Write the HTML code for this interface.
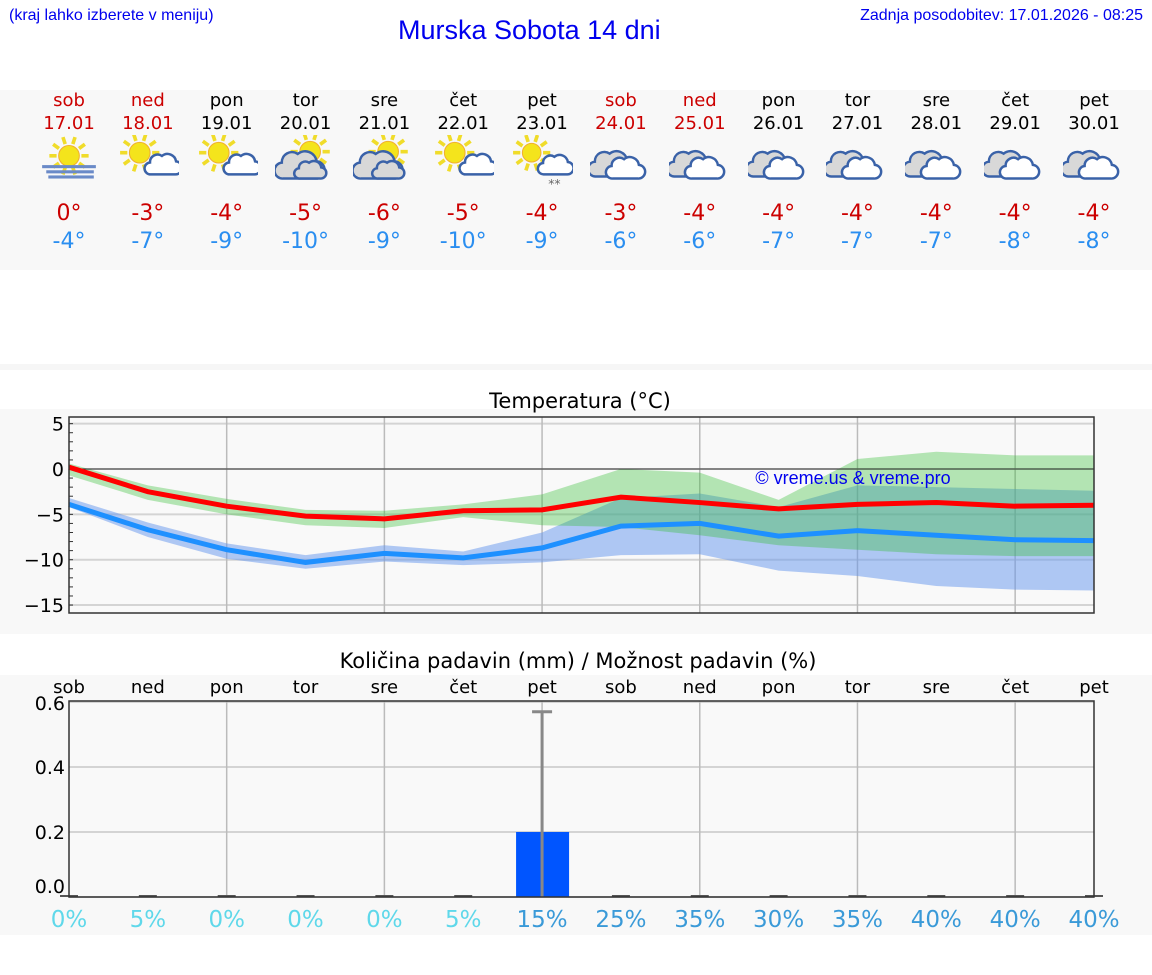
<!DOCTYPE html>
<html><head><meta charset="utf-8">
<style>
html,body{margin:0;padding:0;background:#fff;width:1152px;height:975px;overflow:hidden;position:relative;font-family:"DejaVu Sans",sans-serif;}
.abs{position:absolute;}
.band{position:absolute;left:0;width:1152px;background:#f8f8f8;}
.col{position:absolute;width:80px;text-align:center;}
.dn{font-size:18px;line-height:23px;}
.tmax{font-size:22px;color:#cc0000;}
.tmin{font-size:22px;color:#2a8ef0;}
</style></head>
<body>
<div class="abs" style="left:9px;top:7px;font:16px 'Liberation Sans Narrow','Liberation Sans',sans-serif;color:#0000ee;">(kraj lahko izberete v meniju)</div>
<div class="abs" style="left:398px;top:15px;font:27px 'Liberation Sans Narrow','Liberation Sans',sans-serif;color:#0000ee;">Murska Sobota 14 dni</div>
<div class="abs" style="right:9px;top:7px;font:16px 'Liberation Sans Narrow','Liberation Sans',sans-serif;color:#0000ee;">Zadnja posodobitev: 17.01.2026 - 08:25</div>

<div class="band" style="top:90px;height:180px;"></div>
<div class="band" style="top:364px;height:6px;background:#f6f6f6"></div>
<div class="band" style="top:409px;height:225px;"></div>
<div class="band" style="top:675px;height:260px;"></div>

<div id="days"></div>

<svg class="abs" style="left:0;top:0" width="1152" height="975" id="charts">
  <text x="580" y="408" font-size="21" text-anchor="middle" font-family="DejaVu Sans">Temperatura (°C)</text>
  <text x="578" y="668" font-size="21" text-anchor="middle" font-family="DejaVu Sans">Količina padavin (mm) / Možnost padavin (%)</text>
  <g id="tchart"></g>
  <g id="pchart"></g>
</svg>

<script>
const dayNames=["sob","ned","pon","tor","sre","čet","pet","sob","ned","pon","tor","sre","čet","pet"];
const dates=["17.01","18.01","19.01","20.01","21.01","22.01","23.01","24.01","25.01","26.01","27.01","28.01","29.01","30.01"];
const weekend=[1,1,0,0,0,0,0,1,1,0,0,0,0,0];
const iconTypes=["fog","suncloud","suncloud","cloudsun","cloudsun","suncloud","sunsnow","cloudy","cloudy","cloudy","cloudy","cloudy","cloudy","cloudy"];
const maxLabels=[0,-3,-4,-5,-6,-5,-4,-3,-4,-4,-4,-4,-4,-4];
const minLabels=[-4,-7,-9,-10,-9,-10,-9,-6,-6,-7,-7,-7,-8,-8];

const tMax=[0.2,-2.5,-4.1,-5.2,-5.5,-4.6,-4.5,-3.1,-3.7,-4.4,-3.9,-3.7,-4.1,-4.0];
const tMin=[-3.9,-6.7,-8.9,-10.3,-9.3,-9.8,-8.7,-6.3,-6.0,-7.4,-6.8,-7.3,-7.8,-7.9];
const maxHi=[0.6,-1.8,-3.3,-4.5,-4.6,-3.9,-2.8,0.0,-0.4,-3.4,1.1,1.9,1.5,1.5];
const maxLo=[-0.7,-3.4,-5.0,-6.2,-6.5,-5.3,-6.2,-6.4,-7.3,-8.4,-8.9,-9.4,-9.6,-9.6];
const minHi=[-3.2,-5.9,-8.2,-9.5,-8.4,-9.1,-7.0,-3.2,-2.7,-4.2,-1.8,-2.0,-2.2,-2.4];
const minLo=[-4.2,-7.5,-9.9,-11.0,-10.2,-10.6,-10.3,-9.5,-9.4,-11.2,-11.8,-12.9,-13.3,-13.4];
const tTicks=[5,0,-5,-10,-15];

const precip=[0,0,0,0,0,0,0.2,0,0,0,0,0,0,0];
const precipHi=[0,0,0,0,0,0,0.57,0,0,0,0,0,0,0];
const chance=[0,5,0,0,0,5,15,25,35,30,35,40,40,40];
const pTicks=[0.0,0.2,0.4,0.6];

const NS="http://www.w3.org/2000/svg";
const X0=69,X1=1094;
function xd(i){return X0+i*(X1-X0)/13;}
function yT(v){return 469-v*9.07;}
function yP(v){return 897-v*325;}
function mk(tag,attrs,parent){const e=document.createElementNS(NS,tag);for(const k in attrs)e.setAttribute(k,attrs[k]);parent.appendChild(e);return e;}

const days=document.getElementById('days');
function iconSVG(t){
  const sun=(cx,cy,r)=>{let s='';for(let a=0;a<360;a+=36){const rad=a*Math.PI/180;s+=`<line x1="${cx+Math.cos(rad)*(r+2)}" y1="${cy+Math.sin(rad)*(r+2)}" x2="${cx+Math.cos(rad)*(r+9)}" y2="${cy+Math.sin(rad)*(r+9)}" stroke="#f0dc2a" stroke-width="3.5"/>`;}return s+`<circle cx="${cx}" cy="${cy}" r="${r}" fill="#f4e41c" stroke="#f0b030" stroke-width="1"/>`;};
  const cloud=(x,y,s,fill)=>`<path transform="translate(${x},${y}) scale(${s})" d="M0 0 h22 a6 6 0 0 0 1 -12 a8 8 0 0 0 -13 -5 a7 7 0 0 0 -11 6 a5.5 5.5 0 0 0 1 11 z" fill="${fill}" stroke="#3a62a8" stroke-width="${2.4/s}"/>`;
  let s='';
  if(t==='fog'){s=sun(30,20,10)+`<rect x="4" y="29" width="52" height="3" fill="#6a8ac8"/><rect x="8" y="34" width="46" height="3" fill="#6a8ac8"/><rect x="10" y="39" width="44" height="3" fill="#6a8ac8"/>`;}
  else if(t==='suncloud'){s=sun(22,17,10)+cloud(33,38,1.05,'#fff');}
  else if(t==='sunsnow'){s=sun(20,17,9)+cloud(32,38,1.0,'#fff')+`<text x="36" y="51" font-size="12" fill="#666">**</text>`;}
  else if(t==='cloudsun'){s=sun(34,16,10)+cloud(8,42,1.4,'#d8d8d8')+cloud(24,42,0.9,'#d8d8d8');}
  else {s=cloud(6,40,1.3,'#d8d8d8')+cloud(22,42,1.1,'#fff');}
  return `<svg width="62" height="54" viewBox="0 0 60 52">${s}</svg>`;
}
for(let i=0;i<14;i++){
  const c=document.createElement('div');
  c.className='col';
  
  
  c.style.left=(xd(i)-40)+'px';c.style.top='89px';
  const col=weekend[i]?'#cc0000':'#000';
  c.innerHTML=`<div class="dn" style="color:${col}">${dayNames[i]}<br>${dates[i]}</div>
  <div style="height:54px;margin-top:0px;display:flex;justify-content:center">${iconSVG(iconTypes[i])}</div>
  <div class="tmax" style="margin-top:11px;line-height:28px">${maxLabels[i]}°</div>
  <div class="tmin" style="line-height:28px">${minLabels[i]}°</div>`;
  days.appendChild(c);
}

const tg=document.getElementById('tchart');
const TY0=417,TY1=613;
mk('rect',{x:X0,y:TY0,width:X1-X0,height:TY1-TY0,fill:'#f9f9f9'},tg);
for(let v of tTicks){mk('line',{x1:X0,x2:X1,y1:yT(v),y2:yT(v),stroke:'#d4d4d4','stroke-width':2},tg);
  const t=mk('text',{x:X0-5,y:yT(v)+7,'font-size':19,'text-anchor':'end'},tg);t.textContent=(v<0?'−'+(-v):v);
  }
for(let v=-15;v<=5;v++){mk('line',{x1:X0,x2:X0+4,y1:yT(v),y2:yT(v),stroke:'#333','stroke-width':1},tg);}
for(let i=2;i<14;i+=2){mk('line',{x1:xd(i),x2:xd(i),y1:TY0,y2:TY1,stroke:'#bbb','stroke-width':1.5},tg);}
function band(hi,lo,fill,name){let d='M'+hi.map((v,i)=>xd(i)+' '+yT(v)).join(' L')+' L'+lo.map((v,i)=>xd(i)+' '+yT(v)).reverse().join(' L')+' Z';
  const p=mk('path',{d:d,fill:fill},tg);}
band(minHi,minLo,'rgba(100,149,237,0.5)','min-temp-range');
band(maxHi,maxLo,'rgba(50,190,50,0.35)','max-temp-range');
mk('line',{x1:X0,x2:X1,y1:yT(0),y2:yT(0),stroke:'#333','stroke-width':1},tg);
const wm=mk('text',{x:853,y:484,'font-size':18,fill:'#0000ee','text-anchor':'middle','font-family':'Liberation Sans'},tg);wm.textContent='© vreme.us & vreme.pro';

function line(arr,col,name){const p=mk('polyline',{points:arr.map((v,i)=>xd(i)+','+yT(v)).join(' '),fill:'none',stroke:col,'stroke-width':5,'stroke-linejoin':'miter'},tg);
  }
line(tMin,'#1e90ff','min-temp-line');
line(tMax,'#ff0000','max-temp-line');
mk('rect',{x:X0,y:TY0,width:X1-X0,height:TY1-TY0,fill:'none',stroke:'#333','stroke-width':1.5},tg);

const pg=document.getElementById('pchart');
const PY0=701,PY1=897;
mk('rect',{x:X0,y:PY0,width:X1-X0,height:PY1-PY0,fill:'#f9f9f9'},pg);
for(let v of pTicks){mk('line',{x1:X0,x2:X1,y1:yP(v),y2:yP(v),stroke:'#d4d4d4','stroke-width':2},pg);
  const ly=v===0?yP(v)-11:(v>=0.6?yP(v)+1:yP(v));
  const t=mk('text',{x:X0-4,y:ly+7,'font-size':19,'text-anchor':'end'},pg);t.textContent=v.toFixed(1);
  }
for(let i=2;i<14;i+=2){mk('line',{x1:xd(i),x2:xd(i),y1:PY0,y2:PY1,stroke:'#bbb','stroke-width':1.5},pg);}
for(let i=0;i<14;i++){
  const t=mk('text',{x:xd(i),y:693,'font-size':18,'text-anchor':'middle'},pg);t.textContent=dayNames[i];
  
  mk('rect',{x:xd(i)-9,y:PY1-2,width:18,height:2,fill:'#555'},pg);
  if(precip[i]>0){const b=mk('rect',{x:xd(i)-26,y:yP(precip[i]),width:53,height:PY1-yP(precip[i]),fill:'#0055ff'},pg);
    }
  if(precipHi[i]>0){mk('line',{x1:xd(i),x2:xd(i),y1:yP(precipHi[i]),y2:PY1,stroke:'#888','stroke-width':3},pg);
    mk('line',{x1:xd(i)-10,x2:xd(i)+10,y1:yP(precipHi[i]),y2:yP(precipHi[i]),stroke:'#888','stroke-width':3},pg);}
  const c=mk('text',{x:xd(i),y:927,'font-size':23,'text-anchor':'middle',fill:chance[i]>=10?'#3a9ad8':'#5fd8ea'},pg);c.textContent=chance[i]+'%';
  
}
mk('rect',{x:X0,y:PY0,width:X1-X0,height:PY1-PY0,fill:'none',stroke:'#333','stroke-width':1.5},pg);
</script>
</body></html>
